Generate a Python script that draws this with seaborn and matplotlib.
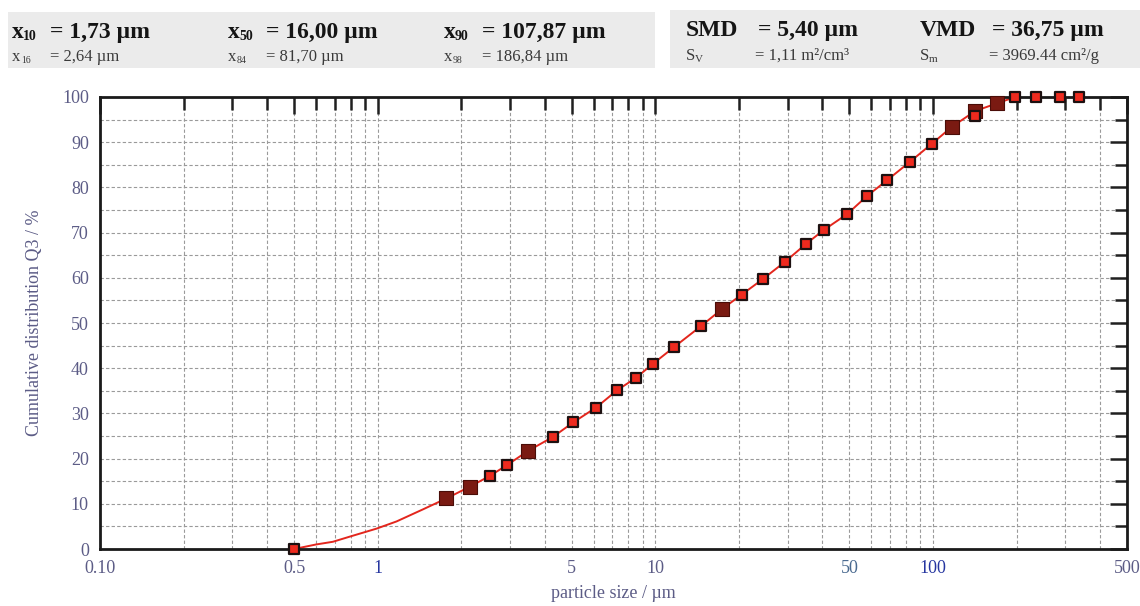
import matplotlib
matplotlib.use("Agg")
import matplotlib.pyplot as plt
import seaborn as sns
import pandas as pd
from matplotlib.patches import Rectangle
from matplotlib.ticker import FixedLocator, NullFormatter

# ---------------- DATA ----------------
# measured points (particle size in um, cumulative Q3 in %)
size_red = [0.5, 2.54, 2.93, 4.28, 5.06, 6.12, 7.28, 8.53, 9.82, 11.7, 14.6,
            20.5, 24.5, 29.4, 34.9, 40.5, 49.1, 57.9, 68.4, 82.8, 99.3,
            142, 198, 235, 287, 336]
q3_red = [0.0, 16.2, 18.6, 24.8, 28.0, 31.3, 35.1, 37.9, 41.0, 44.7, 49.3,
          56.3, 59.8, 63.6, 67.5, 70.6, 74.1, 78.1, 81.6, 85.7, 89.7,
          95.8, 100, 100, 100, 100]
size_dark = [1.77, 2.15, 3.48, 17.4, 117, 142, 170]
q3_dark = [11.2, 13.8, 21.7, 53.1, 93.4, 96.9, 98.6]

# extra curve points between 0.5 and 1.77 um (no markers there)
size_curve = [0.6, 0.69, 0.79, 0.99, 1.17, 1.46]
q3_curve = [1.0, 1.6, 2.7, 4.5, 6.1, 8.8]

x_major = [0.1, 0.5, 1, 5, 10, 50, 100, 500]
x_labels = ["0.10", "0.5", "1", "5", "10", "50", "100", "500"]
x_label_colors = ["#5c5c86", "#5c5c86", "#2636a0", "#5c5c86", "#5c5c86",
                  "#4a6a90", "#2636a0", "#5c5c86"]

header_left = [
    ("10", "= 1,73 µm", "16", "= 2,64 µm"),
    ("50", "= 16,00 µm", "84", "= 81,70 µm"),
    ("90", "= 107,87 µm", "98", "= 186,84 µm"),
]
header_right = [
    ("SMD", "= 5,40 µm", "S", "V", "= 1,11 m²/cm³"),
    ("VMD", "= 36,75 µm", "S", "m", "= 3969.44 cm²/g"),
]

# ---------------- STYLE ----------------
sns.set_style("white")
plt.rcParams["font.family"] = ["Liberation Serif", "DejaVu Serif"]
txt_col = "#5c5c86"

W, H = 1140, 606
fig = plt.figure(figsize=(W / 100, H / 100), dpi=100)
ax = fig.add_axes([100 / W, 1 - 549 / H, 1027 / W, 452 / H])


def px(x, y):
    return x / W, 1 - y / H


# ---------------- CURVE + MARKERS ----------------
curve = pd.DataFrame({
    "size": size_red + size_dark + size_curve,
    "q3": q3_red + q3_dark + q3_curve,
}).sort_values("size").drop_duplicates("size")
sns.lineplot(data=curve, x="size", y="q3", color="#e3261d", linewidth=1.4,
             ax=ax, zorder=3, sort=False)

sns.scatterplot(x=size_dark, y=q3_dark, marker="s", s=95, color="#7a1a12",
                edgecolor="#4a0d08", linewidth=0.8, ax=ax, zorder=4,
                clip_on=False)
sns.scatterplot(x=size_red, y=q3_red, marker="s", s=58, color="#ee2a1e",
                edgecolor="#1c1010", linewidth=1.6, ax=ax, zorder=5,
                clip_on=False)

# ---------------- AXES ----------------
ax.set_xscale("log")
ax.set_xlim(0.1, 500)
ax.set_ylim(0, 100)

minor_x = []
for dec in [0.1, 1, 10, 100]:
    for m in range(2, 10):
        v = dec * m
        if v < 500 and m != 5:
            minor_x.append(v)
ax.xaxis.set_major_locator(FixedLocator(x_major))
ax.xaxis.set_minor_locator(FixedLocator(minor_x))
ax.xaxis.set_minor_formatter(NullFormatter())
ax.set_xticklabels(x_labels)
for lab, c in zip(ax.get_xticklabels(), x_label_colors):
    lab.set_color(c)

ax.yaxis.set_major_locator(FixedLocator(range(0, 101, 10)))
ax.yaxis.set_minor_locator(FixedLocator(range(5, 100, 10)))
for lab in ax.get_yticklabels():
    lab.set_color(txt_col)

ax.tick_params(which="both", direction="in", top=True, right=True,
               width=1.8, color="#202020", labelsize=13)
ax.tick_params(which="major", length=12, pad=8)
ax.tick_params(which="minor", length=9)

ax.grid(True, which="both", color="#9a9a9a", linestyle=(0, (3, 2)),
        linewidth=0.8)
for s in ax.spines.values():
    s.set_color("#1a1a1a")
    s.set_linewidth(2)
    s.set_zorder(3.5)

ax.set_xlabel("particle size / µm", fontsize=13, color=txt_col, labelpad=6)
ax.set_ylabel("Cumulative distribution Q3 / %", fontsize=13, color=txt_col,
              labelpad=14)

# ---------------- HEADER ----------------
fig.patches.append(Rectangle(px(8, 68), 647 / W, 56 / H, transform=fig.transFigure,
                             facecolor="#ebebeb", edgecolor="none"))
fig.patches.append(Rectangle(px(670, 68), 470 / W, 58 / H, transform=fig.transFigure,
                             facecolor="#ebebeb", edgecolor="none"))

for i, (sub1, val1, sub2, val2) in enumerate(header_left):
    x0 = 12 + i * 216
    fig.text(*px(x0, 38), "x", fontsize=17, fontweight="bold", color="#151515")
    fig.text(*px(x0 + 11, 40), sub1, fontsize=10, fontweight="bold", color="#151515")
    fig.text(*px(x0 + 38, 38), val1, fontsize=17, fontweight="bold", color="#151515")
    fig.text(*px(x0, 61), "x", fontsize=12, color="#3a3a3a")
    fig.text(*px(x0 + 9, 63), sub2, fontsize=7, color="#3a3a3a")
    fig.text(*px(x0 + 38, 61), val2, fontsize=12, color="#3a3a3a")

for i, (name, val1, s, sub, val2) in enumerate(header_right):
    x0 = 686 + i * 234
    fig.text(*px(x0, 36), name, fontsize=17, fontweight="bold", color="#151515")
    fig.text(*px(x0 + 72, 36), val1, fontsize=17, fontweight="bold", color="#151515")
    fig.text(*px(x0, 60), s, fontsize=12, color="#3a3a3a")
    fig.text(*px(x0 + 9, 62), sub, fontsize=8, color="#3a3a3a")
    fig.text(*px(x0 + 69, 60), val2, fontsize=12, color="#3a3a3a")

fig.savefig("out.png", dpi=100)
